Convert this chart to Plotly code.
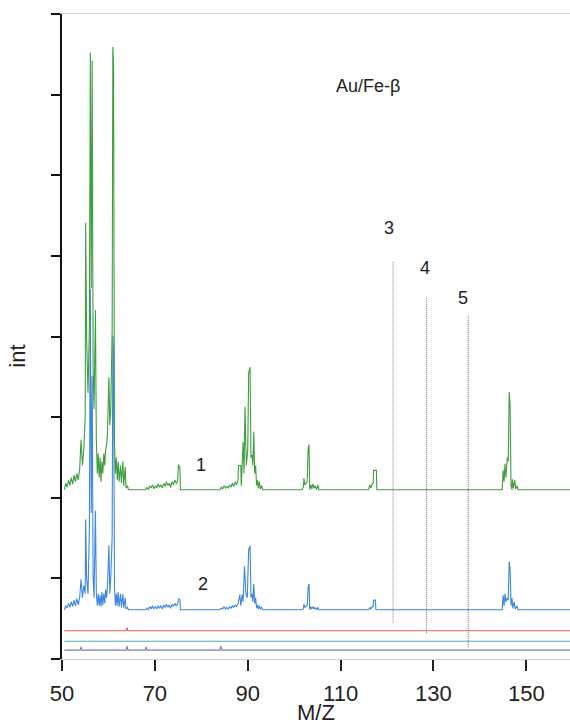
import numpy as np
import plotly.graph_objects as go

# ---------------- data ----------------
# spectrum 1 (green): m/z and intensity above its own baseline
mz1 = [50.5, 50.8, 51.1, 51.4, 51.7, 52.0, 52.3, 52.6, 52.9, 53.2, 53.5, 53.8, 54.1, 54.4, 54.7,
       55.0, 55.1, 55.3, 55.6, 55.9, 56.1, 56.3, 56.5, 56.7, 56.9, 57.2, 57.4, 57.6, 57.8, 58.0,
       58.2, 58.4, 58.6, 58.8, 59.0, 59.2, 59.4, 59.6, 59.8, 60.1, 60.3, 60.5, 60.8, 60.95, 61.1,
       61.3, 61.5, 61.7, 61.9, 62.1, 62.3, 62.6, 62.8, 63.1, 63.3, 63.6, 63.8, 64.1, 64.3,
       68.0, 68.3, 68.6, 68.9, 69.2, 69.5, 69.8, 70.1, 70.4, 70.7, 71.0, 71.3, 71.6, 71.9, 72.2,
       72.5, 72.8, 73.1, 73.4, 73.7, 74.0, 74.3, 74.6, 74.9, 75.1, 75.4, 75.5,
       84.0, 84.3, 84.6, 84.9, 85.2, 85.5, 85.8, 86.1, 86.4, 86.7, 87.0, 87.3, 87.6, 87.9, 88.0,
       88.5, 88.6, 88.8, 89.0, 89.2, 89.4, 89.7, 90.0, 90.2, 90.5, 90.7, 90.9, 91.1, 91.3, 91.5,
       91.7, 91.9, 92.1, 92.3, 92.5, 92.7, 93.0, 93.2,
       101.7, 102.0, 102.1, 102.3, 102.5, 102.8, 103.0, 103.2, 103.35, 103.6, 103.8, 104.0,
       104.3, 104.5, 104.8, 105.1, 105.3,
       116.0, 116.3, 116.5, 116.8, 117.0, 117.1, 117.7, 117.8,
       144.8, 145.0, 145.2, 145.4, 145.6, 145.9, 146.1, 146.3, 146.5, 146.7, 146.9, 147.0,
       147.2, 147.5, 147.7, 148.0, 148.2, 159.4]
int1 = [0.00, 0.08, 0.03, 0.12, 0.05, 0.15, 0.07, 0.18, 0.10, 0.20, 0.12, 0.25, 0.62, 0.30, 0.50,
        0.90, 3.31, 1.90, 1.20, 2.00, 5.42, 2.50, 5.32, 1.50, 1.00, 2.23, 0.60, 0.20, 0.45, 0.15,
        0.40, 0.10, 0.35, 0.20, 0.45, 0.30, 0.50, 0.55, 0.70, 1.39, 0.80, 1.00, 2.00, 5.49, 5.30,
        0.60, 0.20, 0.40, 0.12, 0.35, 0.10, 0.30, 0.08, 0.35, 0.05, 0.28, 0.02, 0.05, 0.00,
        0.00, 0.03, 0.00, 0.05, 0.02, 0.06, 0.01, 0.05, 0.02, 0.07, 0.03, 0.06, 0.02, 0.08, 0.04,
        0.10, 0.05, 0.08, 0.03, 0.10, 0.06, 0.12, 0.08, 0.10, 0.31, 0.27, 0.00,
        0.00, 0.03, 0.01, 0.05, 0.02, 0.04, 0.02, 0.06, 0.03, 0.08, 0.04, 0.10, 0.06, 0.12, 0.30,
        0.30, 0.05, 0.30, 0.59, 0.20, 1.03, 0.30, 0.50, 1.45, 1.52, 0.40, 0.43, 0.30, 0.72, 0.20,
        0.30, 0.05, 0.12, 0.02, 0.10, 0.01, 0.05, 0.00,
        0.00, 0.04, 0.14, 0.06, 0.08, 0.10, 0.50, 0.56, 0.00, 0.06, 0.01, 0.07,
        0.02, 0.05, 0.00, 0.06, 0.00,
        0.00, 0.06, 0.02, 0.07, 0.08, 0.24, 0.24, 0.00,
        0.00, 0.24, 0.10, 0.32, 0.15, 0.40, 0.35, 1.21, 1.05, 0.05, 0.00, 0.13,
        0.02, 0.12, 0.01, 0.05, 0.00, 0.00]

# spectrum 2 (blue)
mz2 = [50.5, 50.8, 51.1, 51.4, 51.7, 52.0, 52.3, 52.6, 52.9, 53.2, 53.5, 53.8, 54.1, 54.4, 54.7,
       55.0, 55.1, 55.3, 55.6, 55.9, 56.1, 56.3, 56.5, 56.7, 56.9, 57.2, 57.4, 57.6, 57.8, 58.0,
       58.2, 58.4, 58.6, 58.8, 59.0, 59.2, 59.4, 59.6, 59.8, 60.1, 60.3, 60.5, 60.8, 60.95, 61.1,
       61.3, 61.5, 61.7, 61.9, 62.1, 62.3, 62.6, 62.8, 63.1, 63.3, 63.6, 63.8, 64.1, 64.3,
       68.0, 68.3, 68.6, 68.9, 69.2, 69.5, 69.8, 70.1, 70.4, 70.7, 71.0, 71.3, 71.6, 71.9, 72.2,
       72.5, 72.8, 73.1, 73.4, 73.7, 74.0, 74.3, 74.6, 74.9, 75.1, 75.4, 75.5,
       84.0, 84.3, 84.6, 84.9, 85.2, 85.5, 85.8, 86.1, 86.4, 86.7, 87.0, 87.3, 87.6, 87.9, 88.0,
       88.3, 88.5, 88.8, 89.0, 89.3, 89.6, 89.9, 90.2, 90.5, 90.7, 90.9, 91.1, 91.3, 91.5,
       91.7, 91.9, 92.1, 92.3, 92.5, 92.7, 93.0, 93.2,
       101.7, 102.0, 102.1, 102.3, 102.5, 102.8, 103.0, 103.2, 103.35, 103.6, 103.8, 104.0,
       104.3, 104.5, 104.8, 105.1, 105.3,
       116.0, 116.3, 116.5, 116.8, 117.0, 117.1, 117.5, 117.6,
       144.8, 145.0, 145.2, 145.4, 145.6, 145.9, 146.1, 146.3, 146.5, 146.7, 146.9, 147.1,
       147.4, 147.6, 148.0, 148.2, 159.4]
int2 = [0.00, 0.05, 0.02, 0.08, 0.03, 0.10, 0.04, 0.12, 0.05, 0.14, 0.06, 0.15, 0.38, 0.15, 0.30,
        0.20, 1.12, 0.40, 0.20, 1.00, 3.98, 1.20, 2.90, 0.40, 0.15, 1.23, 0.20, 0.05, 0.20, 0.05,
        0.18, 0.04, 0.22, 0.06, 0.20, 0.08, 0.25, 0.15, 0.30, 0.80, 0.20, 0.40, 0.90, 3.40, 3.20,
        0.30, 0.05, 0.20, 0.05, 0.22, 0.04, 0.20, 0.03, 0.20, 0.02, 0.15, 0.01, 0.03, 0.00,
        0.00, 0.02, 0.00, 0.04, 0.01, 0.05, 0.01, 0.04, 0.01, 0.05, 0.02, 0.05, 0.01, 0.06, 0.03,
        0.07, 0.03, 0.06, 0.02, 0.07, 0.04, 0.08, 0.05, 0.07, 0.14, 0.12, 0.00,
        0.00, 0.02, 0.01, 0.04, 0.01, 0.03, 0.01, 0.04, 0.02, 0.05, 0.03, 0.06, 0.04, 0.07, 0.10,
        0.19, 0.05, 0.19, 0.10, 0.54, 0.20, 0.15, 0.75, 0.79, 0.15, 0.20, 0.10, 0.32, 0.08,
        0.15, 0.02, 0.06, 0.01, 0.05, 0.01, 0.03, 0.00,
        0.00, 0.02, 0.07, 0.03, 0.04, 0.05, 0.28, 0.32, 0.00, 0.04, 0.01, 0.04,
        0.01, 0.03, 0.00, 0.03, 0.00,
        0.00, 0.03, 0.01, 0.04, 0.04, 0.12, 0.12, 0.00,
        0.00, 0.18, 0.05, 0.20, 0.10, 0.15, 0.12, 0.60, 0.50, 0.05, 0.15, 0.02,
        0.10, 0.01, 0.05, 0.00, 0.00]

# spectrum 3 (red)
mz3 = [50.5, 63.8, 64.0, 64.2, 159.4]
int3 = [0.00, 0.00, 0.04, 0.00, 0.00]

# spectrum 4 (teal)
mz4 = [50.5, 159.4]
int4 = [0.00, 0.00]

# spectrum 5 (purple)
mz5 = [50.5, 53.9, 54.1, 54.3, 63.8, 64.0, 64.2, 67.9, 68.1, 68.3, 84.0, 84.2, 84.4, 159.4]
int5 = [0.00, 0.00, 0.04, 0.00, 0.00, 0.05, 0.00, 0.00, 0.04, 0.00, 0.00, 0.05, 0.00, 0.00]

# vertical markers 3, 4, 5
marker_mz = [121.3, 128.5, 137.5]
marker_top = [4.93, 4.49, 4.27]
marker_bottom = [0.45, 0.32, 0.15]
marker_labels = ["3", "4", "5"]

x_ticks = [50, 70, 90, 110, 130, 150]

# baselines (vertical offsets of stacked spectra)
offset1, offset2, offset3, offset4, offset5 = 2.10, 0.61, 0.35, 0.22, 0.11

# ---------------- figure ----------------
fig = go.Figure()

for mz, inten, off, col in [
    (mz5, int5, offset5, "#7d7ab3"),
    (mz4, int4, offset4, "#5aaca2"),
    (mz3, int3, offset3, "#e8604a"),
    (mz2, int2, offset2, "#3f87dc"),
    (mz1, int1, offset1, "#3f9e3f"),
]:
    fig.add_trace(go.Scatter(x=mz, y=np.array(inten) + off, mode="lines",
                             line=dict(color=col, width=1.1), hoverinfo="skip",
                             showlegend=False))

for xm, yt, yb in zip(marker_mz, marker_top, marker_bottom):
    fig.add_trace(go.Scatter(x=[xm, xm], y=[yb, yt], mode="lines",
                             line=dict(color="#7a7a7a", width=1, dash="1px,1px"),
                             showlegend=False, hoverinfo="skip"))

font_family = "Liberation Sans, Arial, sans-serif"
annos = [
    dict(x=80.0, y=2.41, text="1"),
    dict(x=80.3, y=0.93, text="2"),
    dict(x=120.4, y=5.35, text=marker_labels[0]),
    dict(x=128.1, y=4.85, text=marker_labels[1]),
    dict(x=136.3, y=4.48, text=marker_labels[2]),
]
for a in annos:
    fig.add_annotation(x=a["x"], y=a["y"], text=a["text"], showarrow=False,
                       font=dict(size=18, color="#222222", family=font_family))
fig.add_annotation(x=115.8, y=7.11, text="Au/Fe-β", showarrow=False,
                   font=dict(size=18, color="#222222", family=font_family))
fig.add_annotation(x=0.5, xref="paper", y=-0.083, yref="paper", yanchor="middle",
                   xanchor="center", text="M/Z", showarrow=False,
                   font=dict(size=22, color="#222222", family=font_family))
fig.add_annotation(x=-0.087, xref="paper", y=0.47, yref="paper", text="int",
                   xanchor="center", yanchor="middle",
                   textangle=-90, showarrow=False,
                   font=dict(size=22, color="#222222", family=font_family))

fig.update_layout(
    width=570, height=724,
    margin=dict(l=62, r=0, t=14, b=65),
    plot_bgcolor="white", paper_bgcolor="white",
    font=dict(family=font_family, color="#222222"),
    xaxis=dict(range=[50, 159.4], tickvals=x_ticks, showgrid=False, zeroline=False,
               showline=True, linecolor="#cfcfcf", linewidth=1, mirror=True,
               ticks="outside", ticklen=11, tickwidth=1.5, tickcolor="#222222",
               ticklabelstandoff=4,
               tickfont=dict(size=22, family=font_family, color="#222222")),
    yaxis=dict(range=[0, 8], dtick=1, showgrid=False, zeroline=False,
               showline=True, linecolor="#111111", linewidth=2,
               ticks="outside", ticklen=9, tickwidth=2, tickcolor="#111111",
               showticklabels=False),
)

# remove the default 8px page margin so the figure fills the window exactly
fig.write_html("out.html", config={"displayModeBar": False},
               post_script="document.body.style.margin='0px';document.body.style.overflow='hidden';")
